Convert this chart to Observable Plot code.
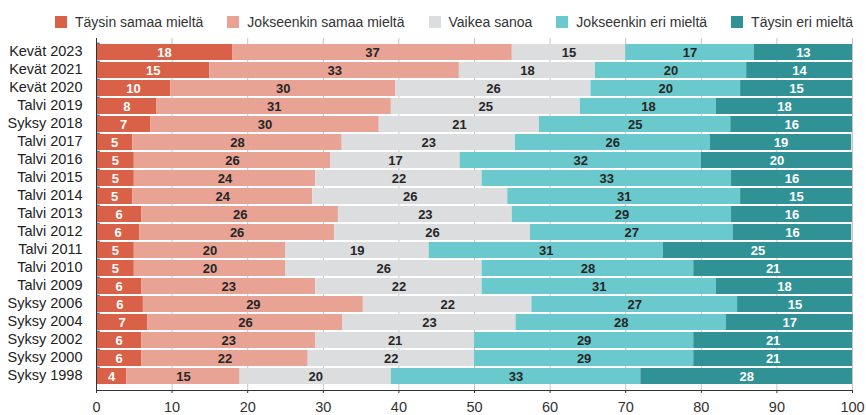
<!DOCTYPE html>
<html>
<head>
<meta charset="utf-8">
<script src="https://cdn.jsdelivr.net/npm/d3@7"></script>
<script src="https://cdn.jsdelivr.net/npm/@observablehq/plot@0.6"></script>
<style>
  html, body { margin: 0; padding: 0; background: #fff; }
  #legend { height: 30px; box-sizing: border-box; padding-top: 13px; padding-right: 13px;
    display: flex; justify-content: flex-end; font-family: "Liberation Sans", Arial, sans-serif;
    font-size: 14px; color: #333; line-height: 12px; }
  .item { display: flex; align-items: center; margin-left: 24px; white-space: nowrap; }
  .sw { width: 12px; height: 12px; margin-right: 8px; display: inline-block; }
  #chart svg { display: block; }
</style>
</head>
<body>
<div id="legend"></div>
<div id="chart"></div>
<script>
const rows = ["Kevät 2023", "Kevät 2021", "Kevät 2020", "Talvi 2019", "Syksy 2018", "Talvi 2017",
  "Talvi 2016", "Talvi 2015", "Talvi 2014", "Talvi 2013", "Talvi 2012", "Talvi 2011", "Talvi 2010",
  "Talvi 2009", "Syksy 2006", "Syksy 2004", "Syksy 2002", "Syksy 2000", "Syksy 1998"];
const cats = ["Täysin samaa mieltä", "Jokseenkin samaa mieltä", "Vaikea sanoa", "Jokseenkin eri mieltä", "Täysin eri mieltä"];
const colors = ["#d96148", "#e8a395", "#dcdddf", "#6ac9cc", "#319295"];
const whiteLabelCats = ["Täysin samaa mieltä", "Täysin eri mieltä"];

const taysinSamaa     = [18, 15, 9.8, 8, 7.2, 4.8, 5, 5, 4.8, 6, 5.7, 5, 5, 6, 6.2, 6.8, 6, 6, 4];
const jokseenkinSamaa = [37, 33, 29.8, 31, 30.2, 27.7, 26, 24, 23.8, 26, 25.8, 20, 20, 23, 29.1, 25.8, 23, 22, 15];
const vaikeaSanoa     = [15, 18, 25.8, 25, 21.2, 22.9, 17.1, 22, 25.8, 23, 25.9, 19, 26, 22, 22.3, 22.9, 21, 22, 20];
const jokseenkinEri   = [17, 20, 19.8, 18, 25.3, 25.8, 31.9, 33, 30.8, 29, 26.8, 31, 28, 31, 27.2, 27.8, 29, 29, 33];
const taysinEri       = [13, 14, 14.8, 18, 16.1, 18.7, 20, 16, 14.8, 16, 15.7, 25, 21, 18, 15.2, 16.8, 21, 21, 28];
const xTicks = [0, 10, 20, 30, 40, 50, 60, 70, 80, 90, 100];

const series = [taysinSamaa, jokseenkinSamaa, vaikeaSanoa, jokseenkinEri, taysinEri];
const data = [];
rows.forEach((row, i) => cats.forEach((cat, j) => data.push({row, cat, value: series[j][i]})));

// legend
const legend = document.getElementById("legend");
cats.forEach((c, j) => {
  const it = document.createElement("span");
  it.className = "item";
  const sw = document.createElement("span");
  sw.className = "sw";
  sw.style.background = colors[j];
  it.appendChild(sw);
  it.appendChild(document.createTextNode(c));
  legend.appendChild(it);
});

const fmt = d => String(Math.round(d.value));
const chart = Plot.plot({
  width: 866,
  height: 385,
  marginLeft: 96,
  marginRight: 14,
  marginTop: 8,
  marginBottom: 25,
  style: {fontFamily: "'Liberation Sans', Arial, sans-serif", background: "#fff"},
  x: {domain: [0, 100], label: null},
  y: {domain: rows, paddingInner: 0.11, paddingOuter: 0.05, label: null},
  color: {domain: cats, range: colors},
  marks: [
    Plot.gridX(xTicks, {stroke: "#c4c4c4", strokeOpacity: 1}),
    Plot.barX(data, Plot.stackX({x: "value", y: "row", fill: "cat"})),
    Plot.text(data, Plot.stackX({x: "value", y: "row", z: "cat",
      text: d => whiteLabelCats.includes(d.cat) ? "" : fmt(d),
      fill: "#262626", fontWeight: "bold", fontSize: 13})),
    Plot.text(data, Plot.stackX({x: "value", y: "row", z: "cat",
      text: d => whiteLabelCats.includes(d.cat) ? fmt(d) : "",
      fill: "#ffffff", fontWeight: "bold", fontSize: 13})),
    Plot.ruleY(rows, {y: d => d, x1: 0, x2: 0.5, dy: -9.27, stroke: "#333"}),
    Plot.axisX({ticks: xTicks, tickSize: 3, tickPadding: 8, fontSize: 14.5, color: "#333", label: null, tickFormat: d => String(d)}),
    Plot.axisY({tickSize: 0, tickPadding: 14, fontSize: 14.5, color: "#222", label: null, dy: -1}),
    Plot.frame({anchor: "bottom", stroke: "#333"}),
    Plot.frame({anchor: "left", stroke: "#333"})
  ]
});
document.getElementById("chart").appendChild(chart);
</script>
</body>
</html>
